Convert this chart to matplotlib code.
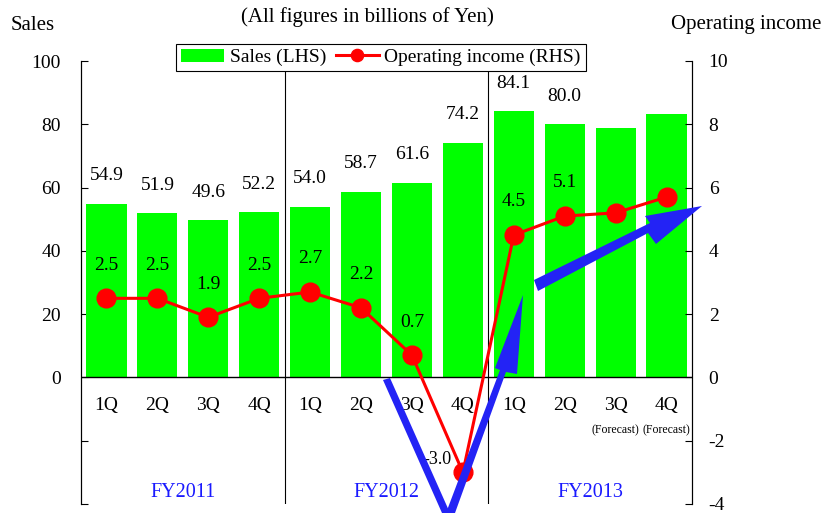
import matplotlib
matplotlib.use("Agg")
import matplotlib.pyplot as plt
from matplotlib.patches import Polygon
from matplotlib.transforms import IdentityTransform
import numpy as np

plt.rcParams['font.family'] = ['Liberation Serif', 'DejaVu Serif']

quarters = ["1Q", "2Q", "3Q", "4Q"] * 3
fiscal_years = ["FY2011", "FY2012", "FY2013"]
sales = [54.9, 51.9, 49.6, 52.2, 54.0, 58.7, 61.6, 74.2, 84.1, 80.0, 78.9, 83.4]
sales_labels = ["54.9", "51.9", "49.6", "52.2", "54.0", "58.7", "61.6", "74.2", "84.1", "80.0", "", ""]
op_income = [2.5, 2.5, 1.9, 2.5, 2.7, 2.2, 0.7, -3.0, 4.5, 5.1, 5.2, 5.7]
op_labels = ["2.5", "2.5", "1.9", "2.5", "2.7", "2.2", "0.7", "-3.0", "4.5", "5.1", "", ""]
forecast_flags = [False] * 10 + [True, True]

W, H = 827, 513
fig = plt.figure(figsize=(W / 100, H / 100), dpi=100)
L, R, T, B = 81, 692, 61, 504
ax = fig.add_axes([L / W, 1 - B / H, (R - L) / W, (B - T) / H])
ax2 = ax.twinx()

n = len(sales)
x = np.arange(n)
ax.bar(x, sales, width=0.79, color="#00ff00", zorder=2, label="Sales (LHS)")
ax.set_xlim(-0.5, n - 0.5)
ax.set_ylim(-40, 100)
ax.set_yticks([-40, -20, 0, 20, 40, 60, 80, 100])
ax.set_yticklabels(["", "", "0", "20", "40", "60", "80", "100"])
ax.axhline(0, color="black", lw=1.0, zorder=3)
for sep in [3.5, 7.5]:
    ax.axvline(sep, color="black", lw=0.8, zorder=1)

for xi, v, lab in zip(x, sales, sales_labels):
    if lab:
        ax.text(xi, v + 8.9, lab, ha="center", va="center", fontsize=14)

# quarter labels and fiscal year labels
for xi, q in zip(x, quarters):
    ax.text(xi, -8.8, q, ha="center", va="center", fontsize=14)
for xi, f in zip(x, forecast_flags):
    if f:
        ax.text(xi, -16.6, "(Forecast)", ha="center", va="center", fontsize=8.5)
for i, fy in enumerate(fiscal_years):
    ax.text(4 * i + 1.5, -36.5, fy, ha="center", va="center", fontsize=14.5, color="#1a1aff")

ax2.plot(x, op_income, color="#ff0000", lw=2.2, marker="o", markersize=13.5,
         markerfacecolor="#ff0000", markeredgecolor="#ff0000", zorder=5,
         label="Operating income (RHS)")
ax2.set_ylim(-4, 10)
ax2.set_yticks([-4, -2, 0, 2, 4, 6, 8, 10])
ax2.set_yticklabels(["-4", "-2", "0", "2", "4", "6", "8", "10"])
for xi, v, lab in zip(x, op_income, op_labels):
    if not lab:
        continue
    if v < 0:
        ax2.text(xi - 0.22, v + 0.4, lab, ha="right", va="center", fontsize=13)
    else:
        ax2.text(xi, v + 1.05, lab, ha="center", va="center", fontsize=14)

for a in (ax, ax2):
    a.spines["top"].set_visible(False)
    a.spines["bottom"].set_visible(False)
    a.tick_params(axis="x", length=0, labelbottom=False)
ax.tick_params(axis="y", direction="in", length=5, labelsize=14, pad=14.5)
ax2.tick_params(axis="y", direction="in", length=5, labelsize=14, pad=12)
ax.set_xticks([])

# decorative blue arrows (pixel coordinates, y from top)
def px(pts):
    return [(px_, H - py_) for px_, py_ in pts]

blue = "#2323f5"
# arrow 1: thick line going down off the chart
fig.add_artist(Polygon(px([(383, 380), (390, 378), (450, 513), (442, 513)]), closed=True,
                       transform=IdentityTransform(), facecolor=blue, edgecolor="none", zorder=10))
# arrow 2: upward arrow
fig.add_artist(Polygon(px([(446, 513), (455, 513), (506, 372), (517, 374), (523, 295),
                           (495, 368), (500, 370)]), closed=True,
                       transform=IdentityTransform(), facecolor=blue, edgecolor="none", zorder=10))
# arrow 3: right-upward arrow
fig.add_artist(Polygon(px([(534, 280), (538, 291), (648, 233), (656, 244), (702, 206),
                           (645, 216), (650, 223)]), closed=True,
                       transform=IdentityTransform(), facecolor=blue, edgecolor="none", zorder=10))

# titles
fig.text(367 / W, 1 - 17 / H, "(All figures in billions of Yen)", ha="center", va="center", fontsize=15)
fig.text(33 / W, 1 - 25 / H, "Sales", ha="center", va="center", fontsize=15)
fig.text(746 / W, 1 - 25 / H, "Operating income", ha="center", va="center", fontsize=15)

# legend
h1, l1 = ax.get_legend_handles_labels()
h2, l2 = ax2.get_legend_handles_labels()
leg = fig.legend(h1 + h2, l1 + l2, loc="center", bbox_to_anchor=(381 / W, 1 - 57.5 / H),
                 ncol=2, fontsize=14, frameon=True, fancybox=False, edgecolor="black",
                 framealpha=1, borderpad=0.25, columnspacing=0.5, handlelength=2.2,
                 handletextpad=0.3, markerscale=0.65)
leg.get_frame().set_linewidth(0.8)
leg.set_zorder(20)

fig.savefig("out.png", dpi=100)
